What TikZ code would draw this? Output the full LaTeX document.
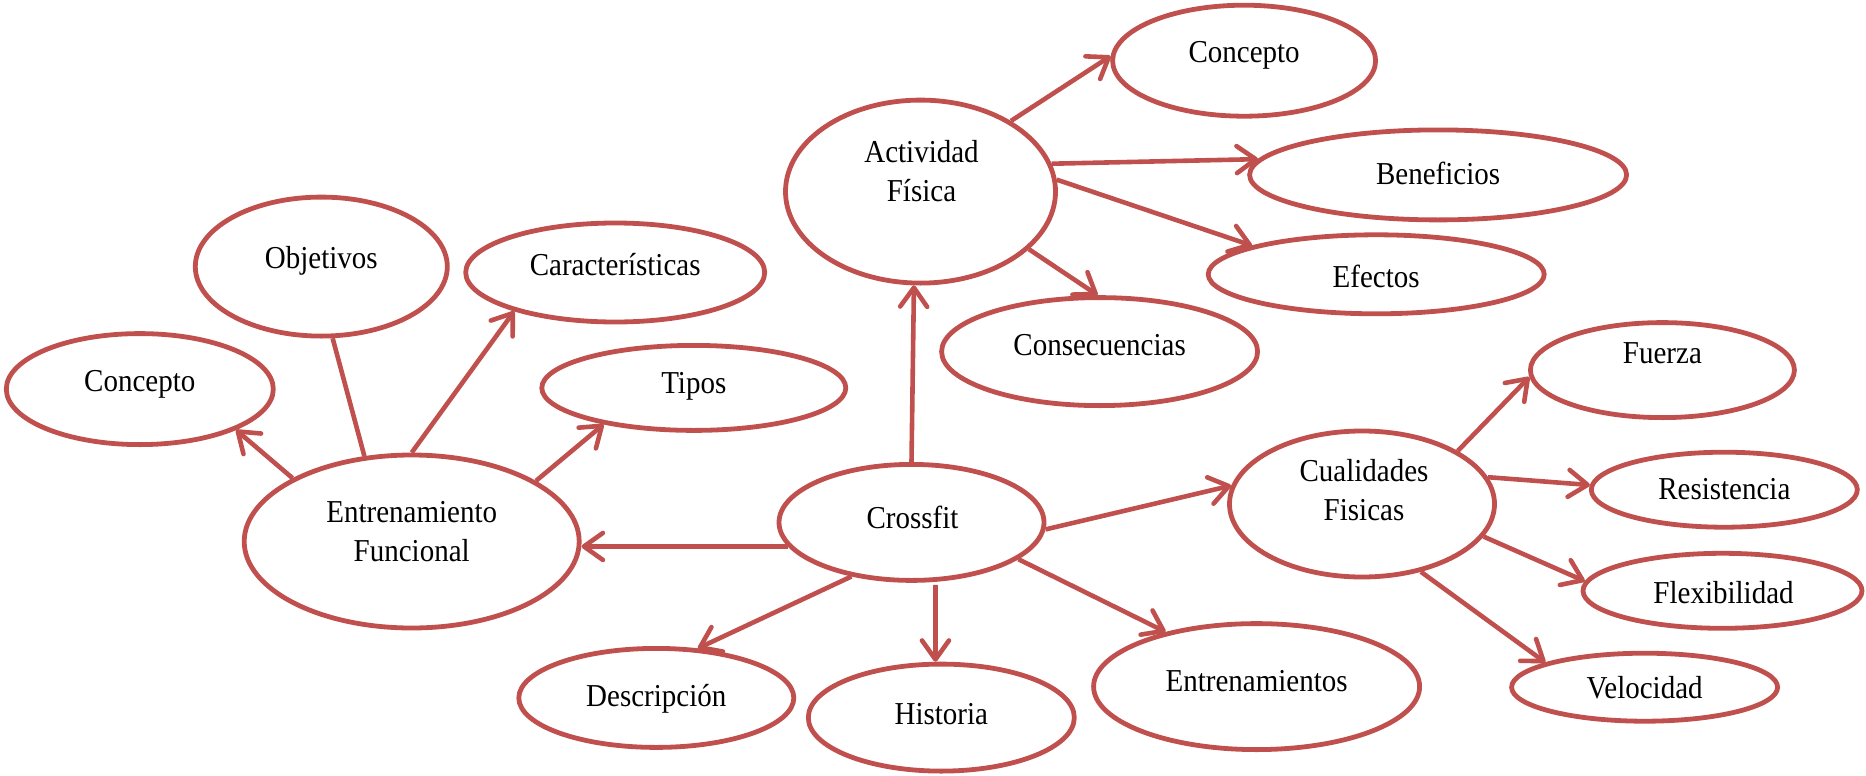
\documentclass[tikz,border=0pt]{standalone}
\usepackage{fontspec}
\setmainfont{Liberation Serif}
\usepackage{graphicx}
\usetikzlibrary{shapes.geometric,arrows.meta}
\definecolor{acc}{HTML}{C0504D}
\newcommand\tx[1]{\scalebox{1}[1.1]{#1}}
\begin{document}
\begin{tikzpicture}[x=1pt,y=-1pt,
 ell/.style={ellipse,draw=acc,line width=4.8pt,inner sep=0pt},
 lbl/.style={font=\fontsize{29}{39}\selectfont,align=center,inner sep=0pt},
 one/.style={lbl,text depth=0pt},
 arr/.style={draw=acc,line width=4.6pt,-{Straight Barb[length=19pt,width=27pt,round]}},
 lin/.style={draw=acc,line width=4.6pt}]
\useasboundingbox (0,0) rectangle (1866,776);

% ellipses
\node[ell,minimum width=267pt,minimum height=111pt] (cL)  at (139.8,389.1) {};
\node[ell,minimum width=252pt,minimum height=139pt] (obj) at (321.3,266.6) {};
\node[ell,minimum width=299pt,minimum height=99pt]  (car) at (615.2,272.5) {};
\node[ell,minimum width=304pt,minimum height=85pt]  (tip) at (693.8,387.9) {};
\node[ell,minimum width=335pt,minimum height=173pt] (ef)  at (411.7,541.5) {};
\node[ell,minimum width=265pt,minimum height=116pt] (cf)  at (911.5,522.4) {};
\node[ell,minimum width=270pt,minimum height=183pt] (af)  at (920.5,191.6) {};
\node[ell,minimum width=263pt,minimum height=111pt] (cT)  at (1244.1,60.7) {};
\node[ell,minimum width=377pt,minimum height=90pt]  (ben) at (1438.1,174.9) {};
\node[ell,minimum width=336pt,minimum height=79pt]  (efe) at (1376.2,274.3) {};
\node[ell,minimum width=316pt,minimum height=108pt] (con) at (1099.6,351.6) {};
\node[ell,minimum width=265pt,minimum height=146pt] (cua) at (1362.0,504.0) {};
\node[ell,minimum width=264pt,minimum height=95pt]  (fue) at (1662.4,370.1) {};
\node[ell,minimum width=266pt,minimum height=75pt]  (res) at (1724.3,489.7) {};
\node[ell,minimum width=279pt,minimum height=75pt]  (fle) at (1722.5,590.8) {};
\node[ell,minimum width=266pt,minimum height=68pt]  (vel) at (1644.6,687.2) {};
\node[ell,minimum width=326pt,minimum height=126pt] (ent) at (1256.6,686.6) {};
\node[ell,minimum width=266pt,minimum height=107pt] (his) at (941.3,717.6) {};
\node[ell,minimum width=275pt,minimum height=99pt]  (des) at (656.3,697.9) {};

% labels
\node[one] (cL-t)  at (139.8,380.8) {\tx{Concepto}};
\node[one] (obj-t) at (321.3,257.0) {\tx{Objetivos}};
\node[one] (car-t) at (615.2,264.2) {\tx{Características}};
\node[one] (tip-t) at (693.8,383.2) {\tx{Tipos}};
\node[lbl] (ef-t)  at (411.7,531.3) {\tx{Entrenamiento}\\\tx{Funcional}};
\node[one] (cf-t)  at (912.5,517.0) {\tx{Crossfit}};
\node[lbl] (af-t)  at (921.5,170.8) {\tx{Actividad}\\\tx{Física}};
\node[one] (cT-t)  at (1244.1,52.4) {\tx{Concepto}};
\node[one] (ben-t) at (1438.1,173.7) {\tx{Beneficios}};
\node[one] (efe-t) at (1376.2,276.0) {\tx{Efectos}};
\node[one] (con-t) at (1099.6,345.1) {\tx{Consecuencias}};
\node[lbl] (cua-t) at (1364.0,489.7) {\tx{Cualidades}\\\tx{Fisicas}};
\node[one] (fue-t) at (1662.4,353.4) {\tx{Fuerza}};
\node[one] (res-t) at (1724.3,489.1) {\tx{Resistencia}};
\node[one] (fle-t) at (1723.5,592.6) {\tx{Flexibilidad}};
\node[one] (vel-t) at (1644.6,687.8) {\tx{Velocidad}};
\node[one] (ent-t) at (1256.6,680.7) {\tx{Entrenamientos}};
\node[one] (his-t) at (941.3,714.0) {\tx{Historia}};
\node[one] (des-t) at (656.3,695.0) {\tx{Descripción}};

% connectors
\draw[arr] (ef.152.8) -- (cL.-23);
\draw[lin] (obj.-81) -- (ef.119.3);
\draw[arr] (ef.90) -- (car.-159.2);
\draw[arr] (ef.26.6) -- (tip.-158.8);
\draw[arr] (cf.-169.15) -- (ef.east |- cf.-169.15);
\draw[arr] (cf.90) -- (af.-94.7);
\draw[arr] (af.38.4) -- (cT.178.5);
\draw[arr] (af.12.87) -- (ben.175.92);
\draw[arr] (af.5.4) -- (efe.167);
\draw[arr] (af.-28) -- (con.92.5);
\draw[arr] (cf.-3.5) -- (cua.172.7);
\draw[arr] (cua.29) -- (fue.-177.1);
\draw[arr] (cua.12.2) -- (res.178.3);
\draw[arr] (cua.-15.5) -- (fle.176);
\draw[arr] (cua.-49.7) -- (vel.166.2);
\draw[arr] (cf.-19.1) -- (ent.149.8);
\draw[arr,shorten <=3pt] (cf.-68.2) -- (his.96);
\draw[arr] (cf.-138.5) -- (des.50.1);
\end{tikzpicture}
\end{document}
